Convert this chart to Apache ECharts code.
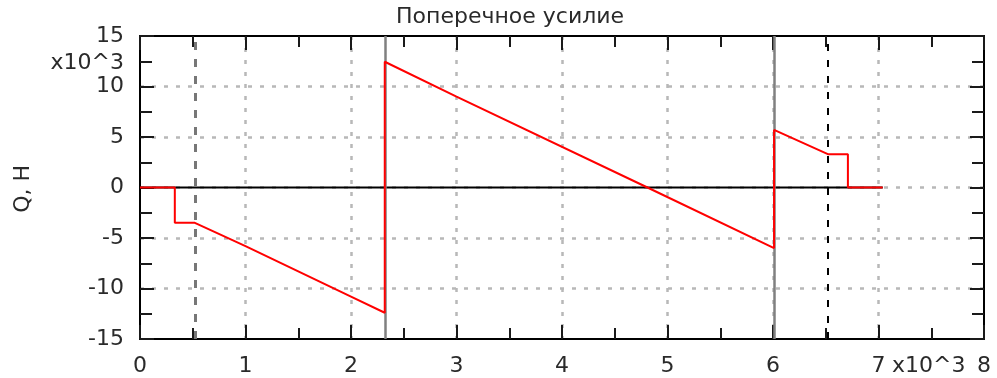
<!DOCTYPE html>
<html>
<head>
<meta charset="utf-8">
<script src="https://cdn.jsdelivr.net/npm/echarts@6/dist/echarts.min.js"></script>
<style>
  html, body { margin: 0; padding: 0; background: #fff; }
  #chart { width: 997px; height: 378px; }
</style>
</head>
<body>
<div id="chart"></div>
<script>
// Shear force diagram Q(x), x in 10^3 units, Q in 10^3 N
const qX = [0, 0.33, 0.33, 0.52, 1.0, 2.0, 2.32, 2.32, 3.0, 4.81, 6.01, 6.01, 6.52, 6.71, 6.71, 7.04];
const qY = [0, 0, -3.5, -3.5, -5.8, -10.8, -12.4, 12.45, 9.0, 0, -6.0, 5.7, 3.3, 3.3, 0, 0];

// beam axis
const beamX = [0, 7.04];
const beamY = [0, 0];

// supports (solid) and load points (dashed)
const supportX = [2.32, 6.01];
const grayDashX = [0.52];
const blackDashX = [6.52];

const xTicks = [0, 1, 2, 3, 4, 5, 6, 7, 8];
const yTicks = [-15, -10, -5, 0, 5, 10, 15];

const FONT = 'DejaVu Sans';
const TXT = '#2a2a2a';
const FS = 22;

const chart = echarts.init(document.getElementById('chart'));

function pairs(xs, ys) { return xs.map((x, i) => [x, ys[i]]); }

const gridDots = { color: '#b8b8b8', width: 2.5, type: [4, 8] };
const tickStyle = { color: '#1a1a1a', width: 2 };

function xAx(pos, labels) {
  return {
    type: 'value', position: pos, min: xTicks[0], max: xTicks[xTicks.length - 1], interval: 1,
    z: 2,
    axisLine: { show: true, onZero: false, lineStyle: { color: '#000', width: 2 } },
    axisTick: { show: true, inside: true, length: 14, lineStyle: tickStyle },
    minorTick: { show: true, splitNumber: 2, length: 11, lineStyle: tickStyle },
    axisLabel: { show: labels, margin: 16, color: TXT, fontFamily: FONT, fontSize: FS },
    splitLine: { show: labels, showMinLine: false, showMaxLine: false, lineStyle: gridDots }
  };
}
function yAx(pos, labels) {
  return {
    type: 'value', position: pos, min: yTicks[0], max: yTicks[yTicks.length - 1], interval: 5,
    z: 2,
    axisLine: { show: true, onZero: false, lineStyle: { color: '#000', width: 2 } },
    axisTick: { show: true, inside: true, length: 14, lineStyle: tickStyle },
    minorTick: { show: true, splitNumber: 2, length: 12, lineStyle: tickStyle },
    axisLabel: { show: labels, margin: 16, color: TXT, fontFamily: FONT, fontSize: FS },
    splitLine: { show: labels, showMinLine: false, showMaxLine: false, lineStyle: gridDots }
  };
}

function vLines(xs, color, width, type) {
  return xs.map(x => ({ xAxis: x, lineStyle: { color: color, width: width, type: type } }));
}

const font = FS + 'px "' + FONT + '"';

chart.setOption({
  animation: false,
  backgroundColor: '#fff',
  grid: { left: 140, right: 13, top: 36, bottom: 39 },
  xAxis: [xAx('bottom', true), xAx('top', false)],
  yAxis: [yAx('left', true), yAx('right', false)],
  graphic: [
    { type: 'text', left: 396, top: 6, style: { text: 'Поперечное усилие', fill: TXT, font: font } },
    { type: 'text', right: 997 - 124, top: 52, style: { text: 'x10^3', fill: TXT, font: font } },
    { type: 'text', left: 892, top: 355, style: { text: 'x10^3', fill: TXT, font: font } },
    { type: 'text', left: 12, top: 165, rotation: Math.PI / 2,
      style: { text: 'Q, H', fill: TXT, font: font } }
  ],
  series: [
    {
      type: 'line', data: [], silent: true, z: 3,
      markLine: {
        symbol: 'none', silent: true, label: { show: false },
        data: [].concat(
          vLines(supportX, '#808080', 2.5, 'solid'),
          vLines(grayDashX, '#777777', 3, [8, 9]),
          vLines(blackDashX, '#000', 2, [7, 9])
        )
      }
    },
    {
      type: 'line', data: pairs(beamX, beamY), symbol: 'none', z: 4,
      lineStyle: { color: '#000', width: 2 }
    },
    {
      type: 'line', data: pairs(qX, qY), symbol: 'none', z: 5,
      lineStyle: { color: '#ff0000', width: 2 }
    }
  ]
});
</script>
</body>
</html>
